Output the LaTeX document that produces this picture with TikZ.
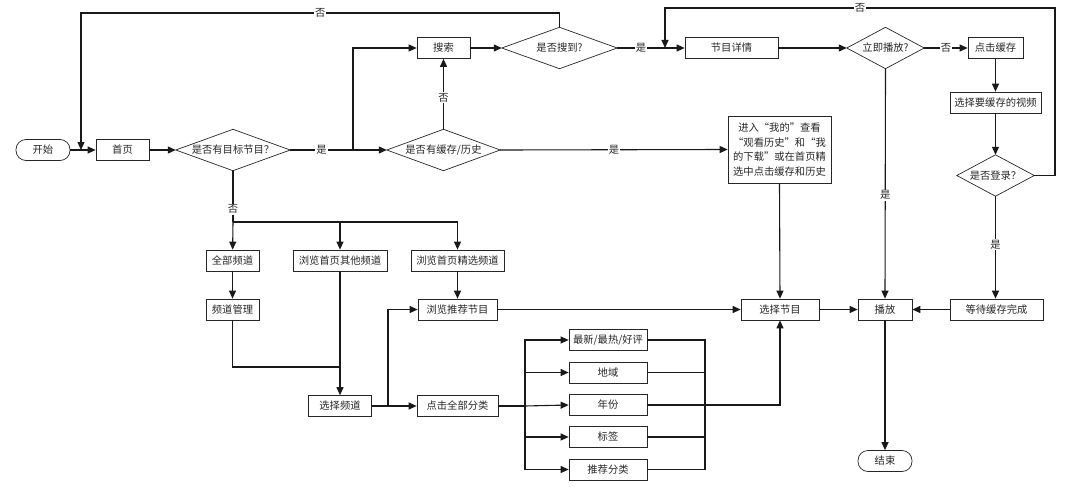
\documentclass[tikz,border=0pt]{standalone}
\usepackage{fontspec}
\newfontfamily\cjk{Noto Sans CJK SC}
\usetikzlibrary{arrows.meta}
\begin{document}
\begin{tikzpicture}[x=1pt,y=-1pt,
  txt/.style={font=\cjk\fontsize{10.3}{12}\selectfont, text=black!85},
  base/.style={txt, draw=black!85, line width=0.7pt, inner sep=1pt},
  box/.style={base, rectangle, minimum height=21pt},
  term/.style={base, rectangle, rounded corners=10pt, minimum height=21pt},
  dia/.style={txt, rectangle, inner sep=0pt, minimum height=41pt},
  diaedge/.style={draw=black!85, line width=0.7pt},
  conn/.style={line width=1.1pt, black!90},
  arr/.style={conn, -{Triangle[length=8pt,width=7pt]}},
  lbl/.style={txt, fill=white, inner sep=1pt}
]
\useasboundingbox (0,0) rectangle (1080,487);
% nodes
\node[term, minimum width=54pt] (start) at (43,150) {开始};
\node[box, minimum width=53pt] (home) at (122.5,150) {首页};
\node[dia, minimum width=114pt] (d1) at (233,150) {是否有目标节目？};
\node[box, minimum width=53pt] (search) at (443.5,48) {搜索};
\node[dia, minimum width=115pt] (d2) at (559.5,48) {是否搜到?};
\node[dia, minimum width=113pt] (d3) at (443.5,150) {是否有缓存/历史};
\node[box, minimum width=103pt, minimum height=67pt, align=center, font=\cjk\fontsize{10.3}{14.5}\selectfont] (mine) at (779.5,149.5) {进入“我的”查看\\“观看历史”和“我\\的下载”或在首页精\\选中点击缓存和历史};
\node[box, minimum width=93pt] (detail) at (731.5,48) {节目详情};
\node[dia, minimum width=77pt] (d4) at (885.5,48) {立即播放?};
\node[box, minimum width=55pt] (cache) at (995.5,48) {点击缓存};
\node[box, minimum width=91pt] (choose) at (995.5,102.5) {选择要缓存的视频};
\node[dia, minimum width=77pt] (d5) at (995.5,175.5) {是否登录？};
\node[box, minimum width=93pt] (wait) at (996.5,309.5) {等待缓存完成};
\node[box, minimum width=54pt] (play) at (885,309.5) {播放};
\node[term, minimum width=54pt] (end) at (885,461) {结束};
\node[box, minimum width=78pt] (sel) at (780,309.5) {选择节目};
\node[box, minimum width=53pt] (all) at (232.5,260.5) {全部频道};
\node[box, minimum width=94pt] (other) at (340,260.5) {浏览首页其他频道};
\node[box, minimum width=93pt] (feat) at (457.5,260.5) {浏览首页精选频道};
\node[box, minimum width=53pt] (mgr) at (232.5,309.5) {频道管理};
\node[box, minimum width=63pt] (selch) at (340,406) {选择频道};
\node[box, minimum width=79pt] (rec) at (457.5,309.5) {浏览推荐节目};
\node[box, minimum width=81pt] (cat) at (457.5,406) {点击全部分类};
\node[box, minimum width=78pt] (c1) at (608,340) {最新/最热/好评};
\node[box, minimum width=78pt] (c2) at (608,372.5) {地域};
\node[box, minimum width=78pt] (c3) at (608,405) {年份};
\node[box, minimum width=78pt] (c4) at (608,437) {标签};
\node[box, minimum width=78pt] (c5) at (608,469.5) {推荐分类};
% diamond outlines
\foreach \n in {d1,d2,d3,d4,d5}
  \draw[diaedge] (\n.north) -- (\n.east) -- (\n.south) -- (\n.west) -- cycle;
% coordinates
\coordinate (jA) at (81,150);
\coordinate (jB) at (353,150);
\coordinate (jC) at (665,48);
\coordinate (jD) at (233,222);
\coordinate (jE) at (388,406);
\coordinate (jF) at (525,406);
\coordinate (jG) at (705,405);
\coordinate (jH) at (340,367);
% connectors
\draw[arr] (start) -- (home);
\draw[arr] (home) -- (d1.west);
\draw[conn] (d1.east) -- node[lbl]{是} (jB);
\draw[arr] (jB) |- (search);
\draw[arr] (jB) -- (d3.west);
\draw[arr] (search) -- (d2.west);
\draw[arr] (d2.north) -- (d2.north |- 0,13) -- node[lbl]{否} (81,13) -- (jA);
\draw[arr] (d3.north) -- node[lbl, pos=0.45]{否} (search.south);
\draw[arr] (d3.east) -- node[lbl]{是} (mine.west);
\draw[conn] (d2.east) -- node[lbl]{是} (jC);
\draw[arr] (jC) -- (detail);
\draw[arr] (d5.east) -- (1055,175.5) -- (1055,8) -- node[lbl]{否} (665,8) -- (jC);
\draw[arr] (detail) -- (d4.west);
\draw[arr] (d4.east) -- node[lbl, pos=0.5]{否} (cache);
\draw[arr] (cache) -- (choose);
\draw[arr] (choose) -- (d5.north);
\draw[arr] (d5.south) -- node[lbl, pos=0.47]{是} (wait.north -| d5.south);
\draw[arr] (d4.south) -- node[lbl, pos=0.55]{是} (play.north);
\draw[arr] (wait) -- (play);
\draw[arr] (sel) -- (play);
\draw[arr] (play) -- (end);
\draw[arr] (mine.south) -- (sel.north);
\draw[conn] (d1.south) -- node[lbl, pos=0.75]{否} (jD);
\draw[arr] (jD) -- (all);
\draw[arr] (jD) -| (other.north);
\draw[arr] (jD) -| (feat.north);
\draw[arr] (all) -- (mgr);
\draw[arr] (feat) -- (rec);
\draw[conn] (mgr.south) |- (jH);
\draw[arr] (other.south) -- (selch.north);
\draw[conn] (selch) -- (jE);
\draw[arr] (jE) |- (rec.west);
\draw[arr] (jE) -- (cat);
\draw[arr] (rec) -- (sel);
\draw[conn] (cat) -- (jF);
\draw[arr] (jF) |- (c1.west);
\draw[arr] (jF) |- (c2.west);
\draw[arr] (jF) -- (c3.west);
\draw[arr] (jF) |- (c4.west);
\draw[arr] (jF) |- (c5.west);
\draw[conn] (c1.east) -| (jG);
\draw[conn] (c2.east) -| (jG);
\draw[conn] (c4.east) -| (jG);
\draw[conn] (c5.east) -| (jG);
\draw[conn] (c3.east) -- (jG);
\draw[arr] (jG) -| (sel.south);
\end{tikzpicture}
\end{document}
